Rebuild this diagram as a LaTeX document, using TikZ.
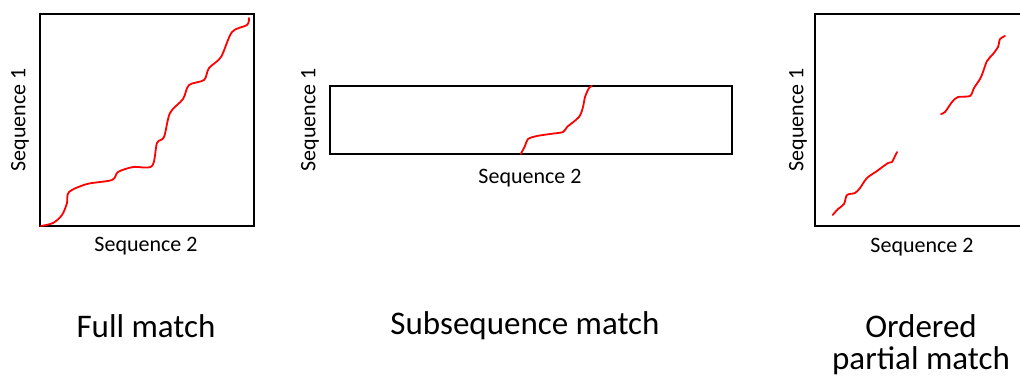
\documentclass[tikz,border=0pt]{standalone}
\usepackage{fontspec}
\setmainfont{Carlito}
\begin{document}
\begin{tikzpicture}[x=1pt,y=-1pt,
  frame/.style={line width=1.9pt,black},
  match/.style={line width=1.8pt,red,line cap=round,line join=round},
  axislabel/.style={font=\fontsize{22}{25}\selectfont,inner sep=0pt},
  title/.style={font=\fontsize{33}{38}\selectfont,inner sep=0pt,align=center}]
\useasboundingbox (0,0) rectangle (1020,378);
% Panel 1
\draw[frame] (40,14) rectangle (254,226);
\draw[match] plot[smooth,tension=0.5] coordinates {(41,226) (53,223) (62,215) (67,203) (69,192) (87,184) (112,180) (118,172) (133,167) (152,166) (157,143) (164,137) (170,113) (183,99) (189,85) (204,80) (209,68) (221,57) (232,32) (247,25) (249,18)};
\node[axislabel,rotate=90] (p1y) at (20,120) {Sequence 1};
\node[axislabel] (p1x) at (146,246) {Sequence 2};
\node[title] (t1) at (146,326) {Full match};
% Panel 2
\draw[frame] (330,86) rectangle (732,154);
\draw[match] plot[smooth,tension=0.5] coordinates {(520.7,154) (525,146) (528,139) (537,136) (550,134) (563,132) (567,127) (579,117) (583,107) (585,97) (589,88) (592,86)};
\node[axislabel,rotate=90] (p2y) at (310,120) {Sequence 1};
\node[axislabel] (p2x) at (530,178) {Sequence 2};
\node[title] (t2) at (525,326) {Subsequence match};
% Panel 3
\draw[frame] (1021,14) -- (815,14) -- (815,226) -- (1021,226);
\draw[match] plot[smooth,tension=0.5] coordinates {(832.7,215) (838,209) (844,204) (847,195) (855,193) (860,188) (867,178) (877,171) (888,163) (892,162) (895,156) (897,152)};
\draw[match] plot[smooth,tension=0.5] coordinates {(941,114) (945,112) (952,102) (958,97) (970,96) (974,88) (980,79) (983,72) (987,61) (993,54) (998,47) (1000,39) (1005,36)};
\node[axislabel,rotate=90] (p3y) at (798,120) {Sequence 1};
\node[axislabel] (p3x) at (922,247) {Sequence 2};
\node[title] (t3a) at (921,326) {Ordered};
\node[title] (t3b) at (921,361) {partial match};
\end{tikzpicture}
\end{document}
